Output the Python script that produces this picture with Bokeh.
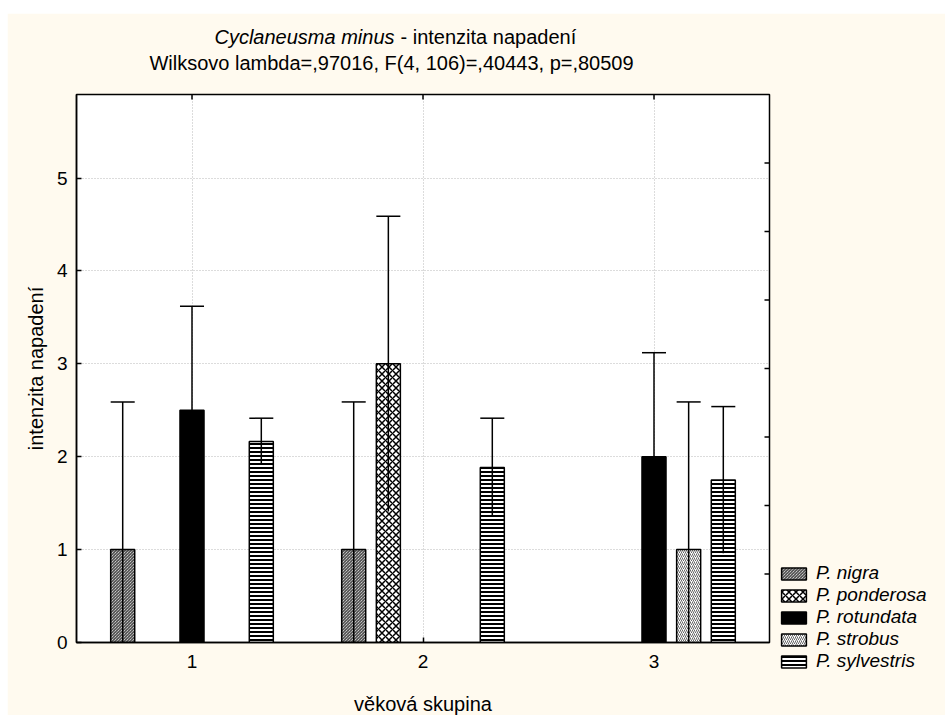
import math
from bokeh.plotting import figure
from bokeh.models import (Range1d, FixedTicker, Legend, LegendItem, ColumnDataSource, Label)
from bokeh.embed import file_html
from bokeh.resources import INLINE

# ---------------- data ----------------
groups = [1, 2, 3]
group_labels = {1: "1", 2: "2", 3: "3"}
species = ["P. nigra", "P. ponderosa", "P. rotundata", "P. strobus", "P. sylvestris"]

nigra_mean = [1.0, 1.0, None]
nigra_err = [1.59, 1.59, None]
ponderosa_mean = [None, 3.0, None]
ponderosa_err = [None, 1.59, None]
rotundata_mean = [2.5, None, 2.0]
rotundata_err = [1.12, None, 1.12]
strobus_mean = [None, None, 1.0]
strobus_err = [None, None, 1.59]
sylvestris_mean = [2.165, 1.885, 1.75]
sylvestris_err = [0.25, 0.53, 0.79]

y_ticks = [0, 1, 2, 3, 4, 5]
right_ticks = [0.7375, 1.475, 2.2125, 2.95, 3.6875, 4.425, 5.1625]
x_min, x_max = 0.5, 3.5
y_min, y_max = 0.0, 5.9

title_italic = "Cyclaneusma minus"
title_rest = "- intenzita napadení"
subtitle = "Wilksovo lambda=,97016, F(4, 106)=,40443, p=,80509"
x_label = "věková skupina"
y_label = "intenzita napadení"

series = {
    "P. nigra": (nigra_mean, nigra_err),
    "P. ponderosa": (ponderosa_mean, ponderosa_err),
    "P. rotundata": (rotundata_mean, rotundata_err),
    "P. strobus": (strobus_mean, strobus_err),
    "P. sylvestris": (sylvestris_mean, sylvestris_err),
}

# ---------------- styles ----------------
FONT = "Liberation Sans"
BG = "#fffaef"
slot = 0.15
bar_w = 0.104
styles = {
    "P. nigra": dict(fill_color="white", hatch_pattern="left_diagonal_line",
                     hatch_color="#222222", hatch_scale=3, hatch_weight=1),
    "P. ponderosa": dict(fill_color="white", hatch_pattern="diagonal_cross",
                         hatch_color="black", hatch_scale=7, hatch_weight=1.5),
    "P. rotundata": dict(fill_color="black"),
    "P. strobus": dict(fill_color="white", hatch_pattern="right_diagonal_line",
                       hatch_color="#666666", hatch_scale=4, hatch_weight=1),
    "P. sylvestris": dict(fill_color="white", hatch_pattern="horizontal_line",
                          hatch_color="black", hatch_scale=4, hatch_weight=2),
}

p = figure(frame_width=693, frame_height=548, output_backend="svg", toolbar_location=None,
           x_range=Range1d(x_min, x_max), y_range=Range1d(y_min, y_max),
           min_border_left=69, min_border_right=176, min_border_top=81,
           min_border_bottom=73)
p.margin = (13, 0, 0, 7)
p.border_fill_color = BG
p.background_fill_color = "white"
p.outline_line_color = "black"
p.outline_line_width = 1.5

for g in (p.xgrid, p.ygrid):
    g.grid_line_color = "#b8b8b8"
    g.grid_line_dash = "1 2"
    g.grid_line_width = 1
p.xgrid.ticker = FixedTicker(ticks=groups)
p.ygrid.ticker = FixedTicker(ticks=y_ticks[1:])

items = []
for i, sp in enumerate(species):
    means, errs = series[sp]
    xs, tops, lows, highs = [], [], [], []
    for g, m, e in zip(groups, means, errs):
        if m is None:
            continue
        xs.append(g + (i - 2) * slot)
        tops.append(m)
        lows.append(m - e)
        highs.append(m + e)
    src = ColumnDataSource(dict(x=xs, top=tops, low=lows, high=highs,
                                cl=[x - bar_w / 2 for x in xs],
                                cr=[x + bar_w / 2 for x in xs]))
    r = p.vbar(x="x", top="top", bottom=0, width=bar_w, source=src,
               line_color="black", line_width=1.5, **styles[sp])
    items.append(LegendItem(label=sp, renderers=[r]))
    p.segment(x0="x", y0="low", x1="x", y1="high", source=src,
              line_color="black", line_width=1.5)
    p.segment(x0="cl", y0="high", x1="cr", y1="high", source=src,
              line_color="black", line_width=1.5)

# inward ticks on the top and right edges of the frame
p.ray(x=groups, y=[y_max] * len(groups), length=5, length_units="screen",
      angle=-math.pi / 2, line_color="black", line_width=1.5)
p.ray(x=[x_max] * len(right_ticks), y=right_ticks, length=5, length_units="screen",
      angle=math.pi, line_color="black", line_width=1.5)

def style_axis(ax):
    ax.axis_line_color = "black"
    ax.axis_line_width = 1.5
    ax.major_tick_in = 5
    ax.major_tick_out = 0
    ax.major_tick_line_color = "black"
    ax.major_tick_line_width = 1.5
    ax.minor_tick_line_color = None
    ax.major_label_text_font = FONT
    ax.major_label_text_font_size = "19px"
    ax.major_label_text_color = "black"
    ax.axis_label_text_font = FONT
    ax.axis_label_text_font_size = "20px"
    ax.axis_label_text_font_style = "normal"
    ax.axis_label_text_color = "black"

p.xaxis.ticker = FixedTicker(ticks=groups)
p.xaxis.major_label_overrides = group_labels
p.xaxis.axis_label = x_label
p.xaxis.major_label_standoff = 12
p.xaxis.axis_label_standoff = 22
p.yaxis.ticker = FixedTicker(ticks=y_ticks)
p.yaxis.axis_label = y_label
p.yaxis.major_label_standoff = 9
p.yaxis.axis_label_standoff = 7
style_axis(p.xaxis[0])
style_axis(p.yaxis[0])

# titles: each label sits in its own stacked panel above the frame
title_font = dict(text_font=FONT, text_font_size="20px", text_color="black",
                  text_baseline="middle")
p.add_layout(Label(x=318, y=58, x_units="screen", y_units="screen", text=title_italic,
                   text_align="right", text_font_style="italic", **title_font), "above")
p.add_layout(Label(x=324, y=36, x_units="screen", y_units="screen", text=title_rest,
                   text_align="left", **title_font), "above")
p.add_layout(Label(x=315, y=-12, x_units="screen", y_units="screen", text=subtitle,
                   text_align="center", **title_font), "above")

legend = Legend(items=items, location=(9, -30), ncols=1)
legend.background_fill_alpha = 0
legend.border_line_color = None
legend.padding = 0
legend.margin = 0
legend.spacing = -8
legend.glyph_width = 31
legend.glyph_height = 15
legend.label_height = 17
legend.label_standoff = 7
legend.label_text_font = FONT
legend.label_text_font_size = "19px"
legend.label_text_font_style = "italic"
legend.label_text_color = "black"
p.add_layout(legend, "right")

open("out.html", "w").write(file_html(p, INLINE))
